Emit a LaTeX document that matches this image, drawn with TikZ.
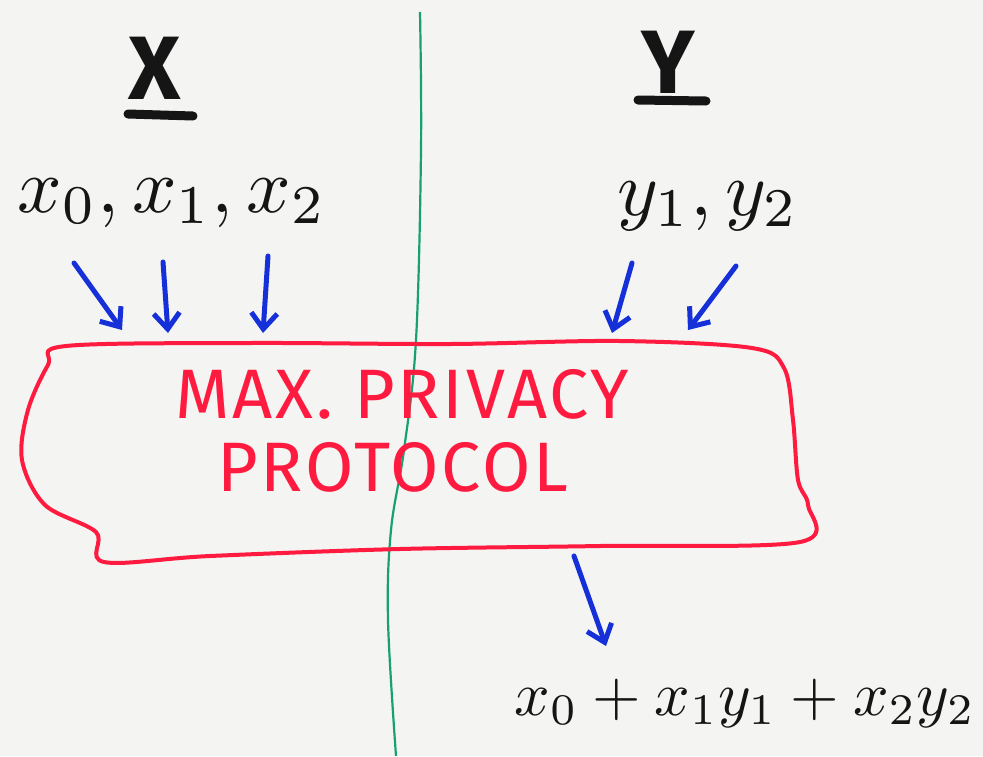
\documentclass[tikz,border=0pt]{standalone}
\usepackage{fontspec}
\setmainfont{Fira Sans}
\usetikzlibrary{arrows.meta}
\definecolor{paper}{HTML}{F4F4F2}
\definecolor{pen}{HTML}{151515}
\definecolor{bluepen}{HTML}{1530D8}
\definecolor{redpen}{HTML}{FF1A40}
\definecolor{greenpen}{HTML}{18A070}
\tikzset{
  barrow/.style={draw=bluepen, line width=5pt, line cap=round,
    -{Straight Barb[length=16pt,width=26pt,line width=5pt]}},
  varlabel/.style={text=pen, inner sep=0pt, scale=7.8},
  title/.style={text=pen, inner sep=0pt, font=\fontsize{90}{90}\selectfont\bfseries},
  redtext/.style={text=redpen, inner sep=0pt, font=\fontsize{70}{76}\selectfont\addfontfeature{LetterSpace=4}},
}
\begin{document}
\begin{tikzpicture}[x=1pt,y=-1pt]
\useasboundingbox (0,0) rectangle (983,756);
\fill[paper] (0,0) rectangle (983,756);
% dividing line
\draw[greenpen, line width=2.2pt] plot[smooth, tension=0.6] coordinates
  {(420,12) (421,150) (416,340) (404,450) (391,530) (388,620) (396,756)};
% titles
\node[title] (X) at (155,68) {X};
\draw[pen, line width=9pt, line cap=round] (128,114) -- (193,116);
\node[title] (Y) at (668,62) {Y};
\draw[pen, line width=9pt, line cap=round] (638,100) -- (706,101);
% inputs
\node[varlabel] (xs) at (172,203) {$x_0, x_1, x_2$};
\node[varlabel] (ys) at (708,206) {$y_1, y_2$};
% protocol blob
\draw[redpen, line width=4pt] plot[smooth cycle, tension=0.55] coordinates
  {(66,346) (250,343) (450,344) (620,341) (752,348) (784,368) (793,420)
   (798,480) (808,505) (800,542) (600,546) (400,549) (210,556) (104,562)
   (96,532) (45,505) (22,460) (28,410) (48,365)};
\node[redtext] (t1) at (402,394) {MAX.\ PRIVACY};
\node[redtext] (t2) at (393,467) {PROTOCOL};
% arrows into protocol
\coordinate (a1s) at (74,263);  \coordinate (a1e) at (122,330);
\coordinate (a2s) at (163,262); \coordinate (a2e) at (168,333);
\coordinate (a3s) at (268,256); \coordinate (a3e) at (263,333);
\coordinate (a4s) at (632,263); \coordinate (a4e) at (612,333);
\coordinate (a5s) at (736,266); \coordinate (a5e) at (688,330);
\draw[barrow] (a1s) -- (a1e);
\draw[barrow] (a2s) -- (a2e);
\draw[barrow] (a3s) -- (a3e);
\draw[barrow] (a4s) -- (a4e);
\draw[barrow] (a5s) -- (a5e);
% output
\node[varlabel, scale=0.8] (out) at (745,703) {$x_0+x_1y_1+x_2y_2$};
\coordinate (o1s) at (574,556);
\coordinate (o1e) at (606,646);
\draw[barrow] (o1s) -- (o1e);
\end{tikzpicture}
\end{document}
